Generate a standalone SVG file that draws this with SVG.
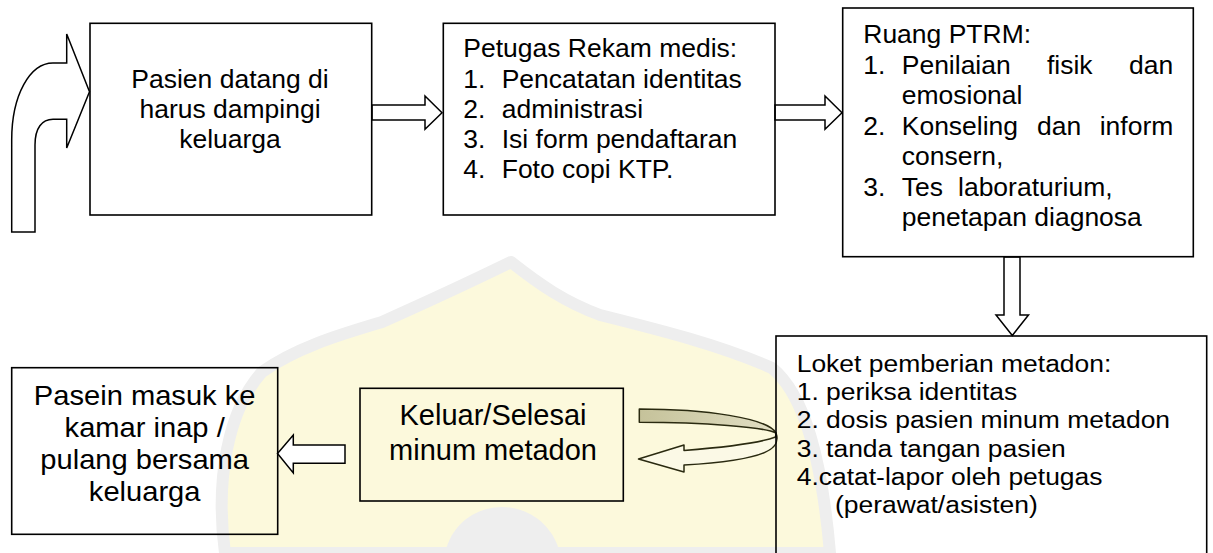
<svg xmlns="http://www.w3.org/2000/svg" width="1213" height="553" viewBox="0 0 1213 553">
<defs>
<style>
.box{fill:none;stroke:#000;stroke-width:1.6}
.blk{fill:#fff;stroke:#000;stroke-width:1.5;stroke-linejoin:miter}
.t{font-family:"Liberation Sans",Arial,sans-serif;fill:#000}
.t25{font-size:25px}
.t245{font-size:24.5px}
.t28{font-size:28px}
.t29{font-size:29px}
.mid{text-anchor:middle}
.end{text-anchor:end}
</style>
<linearGradient id="khaki" x1="0" y1="0" x2="1" y2="0">
<stop offset="0" stop-color="#c5c29a"/>
<stop offset="1" stop-color="#e2dfc4"/>
</linearGradient>
</defs>
<rect width="1213" height="553" fill="#fff"/>
<g id="watermark">
<path d="M225,553 C215,480 228,410 262,372 C300,345 350,332 382,322 C420,305 470,282 511,262 C540,285 565,302 600,315 C660,330 720,345 772,368 C805,395 822,460 830,553 Z" fill="#fcf9dc" stroke="#eeeeee" stroke-width="12" stroke-linejoin="round"/>
<path d="M445,553 C452,522 478,507 502,507 C526,507 552,522 560,553 Z" fill="#eeeeee"/>
</g>
<g id="connectors">
<path class="blk" d="M11.7,232 L11.7,140 C11.7,95 30,63 53,63 L66.7,63 L66.7,34 L89.5,91.7 L66.7,148 L66.7,119.3 L53,119.3 C42,119.3 35,128 35,145 L35,232 Z"/>
<polygon class="blk" points="372,105 425,105 425,96 442,112.7 425,129.3 425,120 372,120"/>
<polygon class="blk" points="775,105 825,105 825,96 842,112.7 825,129.3 825,120 775,120"/>
<polygon class="blk" points="1004,257 1004,315 996,315 1012.3,335.5 1028.5,315 1020,315 1020,257"/>
<polygon class="blk" points="345,445 293.3,445 293.3,435 277.5,453.5 293.3,473 293.3,463.3 345,463.3"/>
<g id="uturn" stroke="#2a2a10" stroke-width="1.5" stroke-linejoin="round">
<path d="M776,433 C781,447 772,460 684,465 L684,472 L638.5,459 L684,445 L684,450.5 C728,447 760,443 775.5,437 Z" fill="#fbf9e6"/>
<path d="M639.3,409 C705,409 768,418 776,433 C764,427 705,422.3 639.3,422.3 Z" fill="url(#khaki)"/>
</g>
</g>
<g id="n1">
<rect class="box" x="90" y="23.3" width="281.7" height="191.7"/>
<g transform="scale(1.06 1)" class="t t25 mid">
<text x="217" y="88.5">Pasien datang di</text>
<text x="217" y="118.5">harus dampingi</text>
<text x="217" y="148.5">keluarga</text>
</g>
</g>
<g id="n2">
<rect class="box" x="443.3" y="23.3" width="331.7" height="191.7"/>
<g transform="scale(1.06 1)" class="t t25">
<text x="437.1" y="57.5">Petugas Rekam medis:</text>
<text y="87.8"><tspan x="437.1">1.</tspan><tspan x="473.3">Pencatatan identitas</tspan></text>
<text y="118"><tspan x="437.1">2.</tspan><tspan x="473.3">administrasi</tspan></text>
<text y="148.3"><tspan x="437.1">3.</tspan><tspan x="473.3">Isi form pendaftaran</tspan></text>
<text y="178.5"><tspan x="437.1">4.</tspan><tspan x="473.3">Foto copi KTP.</tspan></text>
</g>
</g>
<g id="n3">
<rect class="box" x="842.7" y="8" width="350.6" height="248.7"/>
<g transform="scale(1.06 1)" class="t t25">
<text x="814.4" y="43.5">Ruang PTRM:</text>
<text y="74"><tspan x="814.4">1.</tspan><tspan x="850.7">Penilaian</tspan><tspan x="987.7">fisik</tspan></text>
<text class="end" x="1106.9" y="74">dan</text>
<text x="850.7" y="104.5">emosional</text>
<text y="135"><tspan x="814.4">2.</tspan><tspan x="850.7">Konseling</tspan><tspan x="978.3">dan</tspan></text>
<text class="end" x="1106.9" y="135">inform</text>
<text x="850.7" y="165.5">consern,</text>
<text y="196"><tspan x="814.4">3.</tspan><tspan x="850.7">Tes</tspan><tspan x="903.8">laboraturium,</tspan></text>
<text x="850.7" y="226.5">penetapan diagnosa</text>
</g>
</g>
<g id="n4">
<rect class="box" x="776" y="336" width="430.7" height="230"/>
<g transform="scale(1.08 1)" class="t t245">
<text x="737.7" y="371.7">Loket pemberian metadon:</text>
<text x="737.7" y="400">1. periksa identitas</text>
<text x="737.7" y="428.3">2. dosis pasien minum metadon</text>
<text x="737.7" y="456.7">3. tanda tangan pasien</text>
<text x="737.7" y="485">4.catat-lapor oleh petugas</text>
<text x="773.1" y="513.3">(perawat/asisten)</text>
</g>
</g>
<g id="n5">
<rect class="box" x="11.7" y="367.7" width="266" height="166.6"/>
<g transform="scale(1.04 1)" class="t t28 mid">
<text x="139.1" y="405">Pasein masuk ke</text>
<text x="139.1" y="437">kamar inap /</text>
<text x="139.1" y="469.5">pulang bersama</text>
<text x="139.1" y="501.5">keluarga</text>
</g>
</g>
<g id="n6">
<rect class="box" x="360" y="388.3" width="263.3" height="112.7"/>
<g class="t t29 mid">
<text x="493" y="425">Keluar/Selesai</text>
<text x="493" y="460">minum metadon</text>
</g>
</g>
</svg>
